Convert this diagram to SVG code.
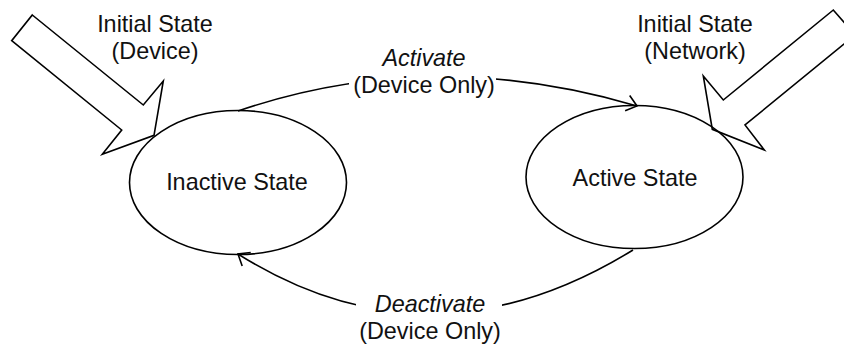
<svg xmlns="http://www.w3.org/2000/svg" width="844" height="347" viewBox="0 0 844 347">
  <style>
    .bg { fill: #ffffff; }
    .state { fill: none; stroke: #000; stroke-width: 1.6; }
    .entry { fill: #ffffff; stroke: #000; stroke-width: 1.6; stroke-linejoin: miter; }
    .edge { fill: none; stroke: #000; stroke-width: 1.6; }
    .mask { fill: #ffffff; }
    text { font-family: "Liberation Sans", Arial, sans-serif; font-size: 23.4px; fill: #111; text-anchor: middle; }
    .evt { font-style: italic; }
  </style>
  <defs>
    <marker id="open-arrow" markerUnits="userSpaceOnUse" viewBox="-12 -10 14 20" refX="0" refY="0" markerWidth="14" markerHeight="20" orient="auto">
      <path d="M-10,-8 L0,0 L-10,8" fill="none" stroke="#000" stroke-width="1.6"/>
    </marker>
  </defs>
  <rect class="bg" x="0" y="0" width="844" height="347"/>

  <!-- transitions -->
  <g id="connectors">
    <g id="edge-activate">
      <path class="edge" d="M238,111 Q430,45 637,106" marker-end="url(#open-arrow)"/>
      <rect class="mask" x="349" y="72" width="147" height="24"/>
      <text class="evt" x="424" y="66">Activate</text>
      <text x="424" y="93">(Device Only)</text>
    </g>
    <g id="edge-deactivate">
      <path class="edge" d="M633,250 Q430,375 238,254" marker-end="url(#open-arrow)"/>
      <rect class="mask" x="356" y="294" width="146" height="24"/>
      <text class="evt" x="430" y="312">Deactivate</text>
      <text x="430" y="339">(Device Only)</text>
    </g>
  </g>

  <!-- initial-state entry arrows -->
  <g id="entry-device">
    <polygon class="entry" points="32.3,15 143.3,105 163.3,81 154,135.3 102.3,154.3 121.7,130 11.7,40.7"/>
    <text x="155" y="31.5">Initial State</text>
    <text x="155" y="58.5">(Device)</text>
  </g>
  <g id="entry-network">
    <polygon class="entry" points="833.3,10 723.3,100 703.3,76 712.3,129.3 764.3,150 745,125 855,35"/>
    <text x="695" y="31.5">Initial State</text>
    <text x="695" y="58.5">(Network)</text>
  </g>

  <!-- states -->
  <g id="state-inactive">
    <ellipse class="state" cx="238" cy="182.5" rx="108.5" ry="72"/>
    <text x="237" y="190">Inactive State</text>
  </g>
  <g id="state-active">
    <ellipse class="state" cx="634.5" cy="177" rx="108.5" ry="71.5"/>
    <text x="635" y="186">Active State</text>
  </g>
</svg>
